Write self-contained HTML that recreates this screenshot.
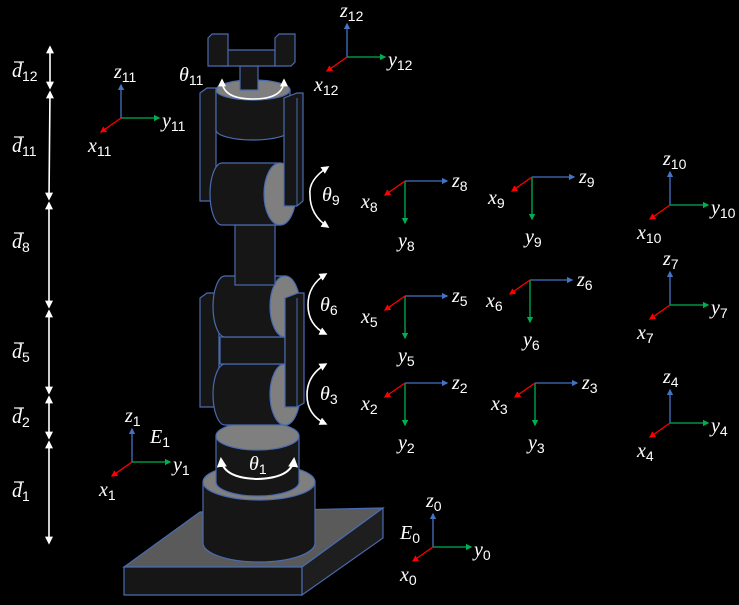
<!DOCTYPE html>
<html><head><meta charset="utf-8"><style>
html,body{margin:0;padding:0;background:#000;width:739px;height:605px;overflow:hidden}
svg{display:block}
text{font-family:"Liberation Serif",serif;font-style:italic;fill:#fff;font-size:20px}
.sub{font-size:14px;font-style:normal;font-family:"Liberation Sans",sans-serif}
.body{fill:#161616;stroke:#4a6bb0;stroke-width:1.2}
.cap{fill:#7f7f7f;stroke:#4a6bb0;stroke-width:1.2}
</style></head><body>
<svg id="fig" width="739" height="605" viewBox="0 0 739 605" xmlns="http://www.w3.org/2000/svg">
<defs>
<marker id="aw" viewBox="0 0 10 10" refX="8" refY="5" markerWidth="5" markerHeight="5" orient="auto-start-reverse"><path d="M0,0L10,5L0,10z" fill="#fff"/></marker>
<marker id="ab" viewBox="0 0 10 10" refX="8" refY="5" markerWidth="5" markerHeight="5" orient="auto"><path d="M0,0L10,5L0,10z" fill="#4472c4"/></marker>
<marker id="ag" viewBox="0 0 10 10" refX="8" refY="5" markerWidth="5" markerHeight="5" orient="auto"><path d="M0,0L10,5L0,10z" fill="#00b050"/></marker>
<marker id="ar" viewBox="0 0 10 10" refX="8" refY="5" markerWidth="5" markerHeight="5" orient="auto"><path d="M0,0L10,5L0,10z" fill="#ff0000"/></marker>
</defs>

<g>
<polygon class="cap" points="124,567 200,512 383,508 302,567" style="fill:#5a5a5a"/>
<polygon class="body" points="124,567 302,567 302,595 124,595"/>
<polygon class="body" points="302,567 383,508 383,538 302,595" style="fill:#1e1e1e"/>
</g>
<g>
<path class="body" d="M203,482 L203,543 A56,19 0 0 0 315,543 L315,482 Z"/>
<ellipse class="cap" cx="259" cy="482" rx="56" ry="18"/>
</g>
<g>
<path class="body" d="M216,436 L216,482 A41.5,14 0 0 0 299,482 L299,436 Z"/>
<ellipse class="cap" cx="257.5" cy="436" rx="41.5" ry="14"/>
</g>
<g>
<polygon class="body" points="200,298 207,293 219,293 219,407 200,407"/>
</g>
<g>
<path class="body" d="M225,364 L285,364 L285,425 L225,425 A12,30.5 0 0 1 225,364 Z"/>
<ellipse class="cap" cx="285" cy="394.5" rx="15" ry="30.5"/>
</g>
<rect class="body" x="220" y="337" width="65" height="27"/>
<g>
<path class="body" d="M225,276 L285,276 L285,337 L225,337 A12,30.5 0 0 1 225,276 Z"/>
<ellipse class="cap" cx="285" cy="306.5" rx="15" ry="30.5"/>
</g>
<polygon class="body" points="285,298 298,293 304,293 304,403 297,407 285,407"/>
<line x1="297" y1="298" x2="297" y2="407" stroke="#4a6bb0"/>
<rect class="body" x="235" y="225" width="40" height="60"/>
<polygon class="body" points="200,93 207,88 216,88 216,201 200,201"/>
<g>
<path class="body" d="M216,90 L290,90 L290,130 A37,10 0 0 1 216,130 Z"/>
<ellipse class="cap" cx="253" cy="90" rx="37" ry="10"/>
</g>
<g>
<path class="body" d="M222,163 L280,163 L280,225 L222,225 A12,31 0 0 1 222,163 Z"/>
<ellipse class="cap" cx="280" cy="194" rx="16" ry="31"/>
</g>
<polygon class="body" points="284,98 297,93 303,93 303,201 297,206 284,206"/>
<line x1="297" y1="98" x2="297" y2="206" stroke="#4a6bb0"/>
<g>
<rect class="body" x="240" y="66" width="18" height="24"/>
<polygon class="body" points="222,56 228,50 275,50 275,66 222,66"/>
<polygon class="body" points="208,38 212,34 228,34 228,66 208,66"/>
<polygon class="body" points="275,38 279,34 295,34 295,62 291,66 275,66"/>
</g>

<g fill="none" stroke="#fff" stroke-width="1.6">
<path d="M221,459 Q223,478 257,479 Q292,478 294,459" marker-start="url(#aw)" marker-end="url(#aw)" stroke-width="2"/>
<path d="M222,80 Q222,99 253,99 Q284,99 284,80" marker-start="url(#aw)" marker-end="url(#aw)"/>
<path d="M328,167 Q308,180 310,195 Q310,215 328,227" marker-start="url(#aw)" marker-end="url(#aw)"/>
<path d="M326,274 Q308,285 308,305 Q308,325 326,334" marker-start="url(#aw)" marker-end="url(#aw)"/>
<path d="M326,364 Q307,375 307,395 Q307,415 326,424" marker-start="url(#aw)" marker-end="url(#aw)"/>
</g>
<text x="249" y="470">θ<tspan class="sub" dy="4">1</tspan></text>
<text x="179" y="81">θ<tspan class="sub" dy="4">11</tspan></text>
<text x="322" y="201">θ<tspan class="sub" dy="4">9</tspan></text>
<text x="320" y="311">θ<tspan class="sub" dy="4">6</tspan></text>
<text x="320" y="400">θ<tspan class="sub" dy="4">3</tspan></text>

<g stroke="#fff" stroke-width="1.6">
<line x1="50" y1="47" x2="50" y2="88" marker-start="url(#aw)" marker-end="url(#aw)"/>
<line x1="50" y1="92" x2="49" y2="199" marker-start="url(#aw)" marker-end="url(#aw)"/>
<line x1="49" y1="203" x2="49" y2="307" marker-start="url(#aw)" marker-end="url(#aw)"/>
<line x1="49" y1="311" x2="49" y2="393" marker-start="url(#aw)" marker-end="url(#aw)"/>
<line x1="49" y1="397" x2="49" y2="438" marker-start="url(#aw)" marker-end="url(#aw)"/>
<line x1="49" y1="442" x2="49" y2="543" marker-start="url(#aw)" marker-end="url(#aw)"/>
</g>
<g id="dims"></g>
<g id="frames"></g>
</svg>
<script>
var NS="http://www.w3.org/2000/svg";
var dimLabels=["12","11","8","5","2","1"];
var dimY=[77,152,248,358,423,497];
var dg=document.getElementById("dims");
dimLabels.forEach(function(s,i){
  var t=document.createElementNS(NS,"text");
  
  
  t.setAttribute("x",12);t.setAttribute("y",dimY[i]);
  t.innerHTML='d<tspan class="sub" dy="4">'+s+'</tspan>';
  dg.appendChild(t);
  var l=document.createElementNS(NS,"line");
  
  
  l.setAttribute("x1",14);l.setAttribute("x2",24);l.setAttribute("y1",dimY[i]-15);l.setAttribute("y2",dimY[i]-15);
  l.setAttribute("stroke","#fff");l.setAttribute("stroke-width","1.2");
  dg.appendChild(l);
});
var frameIds=["12","11","1","0","8","9","10","5","6","7","2","3","4"];
var frameType=["u","u","u","u","s","s","u","s","s","u","s","s","u"];
var frameX=[347,121,132,433,405,532,670,405,530,670,405,535,670];
var frameY=[57,118,462,547,181,177,205,296,280,305,383,383,423];
var fg=document.getElementById("frames");
function ln(x1,y1,x2,y2,c,m,name){
  var l=document.createElementNS(NS,"line");
  
  
  l.setAttribute("x1",x1);l.setAttribute("y1",y1);l.setAttribute("x2",x2);l.setAttribute("y2",y2);
  l.setAttribute("stroke",c);l.setAttribute("stroke-width","1.3");l.setAttribute("marker-end","url(#"+m+")");
  fg.appendChild(l);
}
function lab(x,y,ch,s,name){
  var t=document.createElementNS(NS,"text");
  
  
  t.setAttribute("x",x);t.setAttribute("y",y);
  t.innerHTML=ch+'<tspan class="sub" dy="4">'+s+'</tspan>';
  fg.appendChild(t);
}
frameIds.forEach(function(id,i){
  var x=frameX[i],y=frameY[i];
  if(frameType[i]=="u"){
    ln(x,y,x,y-33,"#4472c4","ab","z-axis-"+id);
    ln(x,y,x+38,y,"#00b050","ag","y-axis-"+id);
    ln(x,y,x-20,y+14,"#ff0000","ar","x-axis-"+id);
    lab(x-7,y-40,"z",id,"z-label-"+id);
    lab(x+41,y+9,"y",id,"y-label-"+id);
    lab(x-33,y+34,"x",id,"x-label-"+id);
  } else {
    ln(x,y,x+42,y,"#4472c4","ab","z-axis-"+id);
    ln(x,y,x,y+42,"#00b050","ag","y-axis-"+id);
    ln(x,y,x-20,y+14,"#ff0000","ar","x-axis-"+id);
    lab(x+47,y+6,"z",id,"z-label-"+id);
    lab(x-7,y+66,"y",id,"y-label-"+id);
    lab(x-44,y+27,"x",id,"x-label-"+id);
  }
});
lab(150,443,"E","1","frame-e1-label");
lab(400,539,"E","0","frame-e0-label");
</script>
</body></html>
